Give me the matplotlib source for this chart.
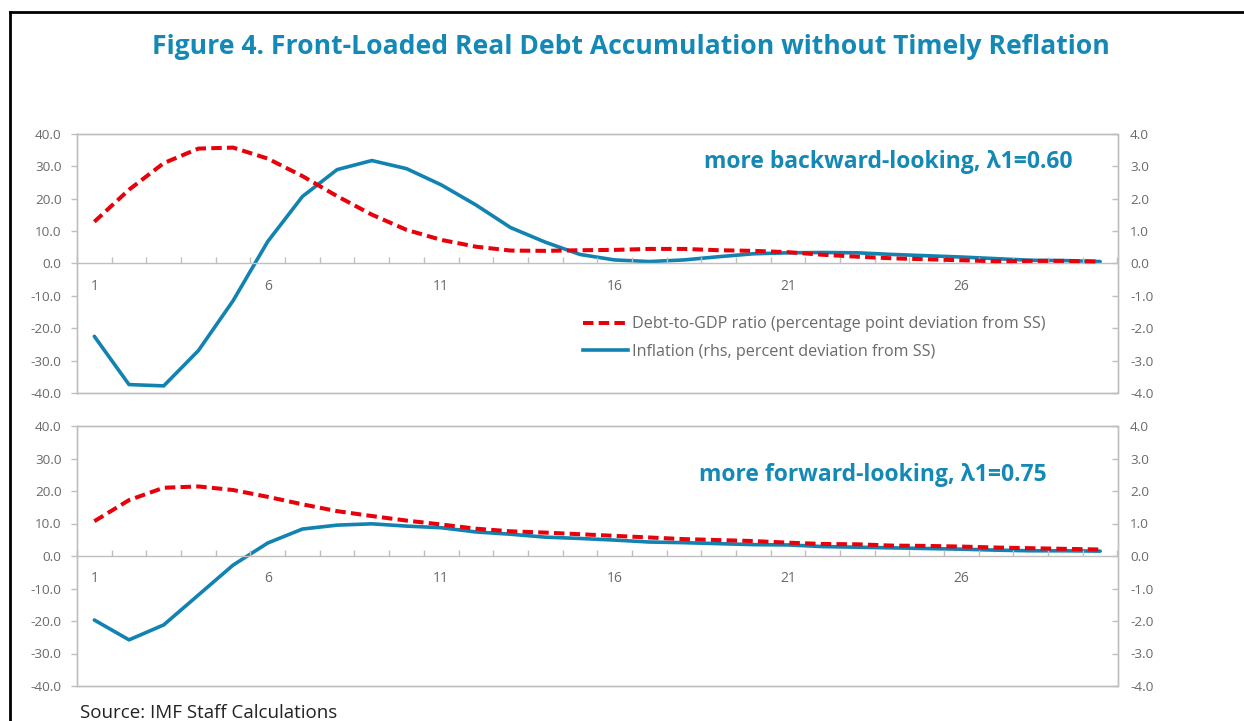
import matplotlib
matplotlib.use("Agg")
import matplotlib.pyplot as plt
from matplotlib.ticker import FixedLocator, FuncFormatter
from matplotlib.lines import Line2D

periods = list(range(1, 31))

debt_backward = [12.9, 22.8, 31.0, 35.5, 35.8, 32.4, 27.0, 20.8, 15.1, 10.4,
                 7.3, 5.2, 4.0, 3.9, 4.1, 4.2, 4.5, 4.5, 4.1, 3.9,
                 3.5, 2.7, 2.1, 1.6, 1.3, 1.0, 0.7, 0.8, 0.8, 0.6]
infl_backward = [-2.25, -3.74, -3.78, -2.69, -1.15, 0.68, 2.07, 2.90, 3.18, 2.93,
                 2.43, 1.81, 1.11, 0.66, 0.28, 0.11, 0.06, 0.11, 0.21, 0.30,
                 0.33, 0.34, 0.33, 0.28, 0.24, 0.20, 0.15, 0.10, 0.09, 0.06]
debt_forward = [10.7, 17.2, 21.0, 21.4, 20.3, 18.2, 15.9, 13.8, 12.3, 10.9,
                9.7, 8.4, 7.6, 7.2, 6.7, 6.2, 5.7, 5.2, 4.9, 4.6,
                4.1, 3.7, 3.6, 3.2, 3.1, 2.9, 2.6, 2.4, 2.2, 2.0]
infl_forward = [-1.97, -2.58, -2.12, -1.20, -0.28, 0.40, 0.83, 0.95, 0.99, 0.92,
                0.87, 0.74, 0.67, 0.58, 0.54, 0.49, 0.43, 0.41, 0.38, 0.35,
                0.34, 0.29, 0.27, 0.25, 0.23, 0.21, 0.18, 0.16, 0.16, 0.15]

cat_labels = [1, 6, 11, 16, 21, 26]
left_ticks = [-40, -30, -20, -10, 0, 10, 20, 30, 40]
right_ticks = [-4, -3, -2, -1, 0, 1, 2, 3, 4]

title = "Figure 4. Front-Loaded Real Debt Accumulation without Timely Reflation"
panel_titles = ["more backward-looking, \u03bb1=0.60", "more forward-looking, \u03bb1=0.75"]
legend_labels = ["Debt-to-GDP ratio (percentage point deviation from SS)",
                 "Inflation (rhs, percent deviation from SS)"]
source = "Source: IMF Staff Calculations"

RED = "#E8000B"
BLUE = "#1283B0"
TEAL = "#1589B6"
GRID = "#BFBFBF"
TXT = "#6A6A6A"
FONT = ["Open Sans", "DejaVu Sans"]

plt.rcParams['font.family'] = FONT

fig = plt.figure(figsize=(12.44, 7.21), dpi=100)

W, H = 1244.0, 721.0
def axrect(l, t, r, b):
    return [l / W, 1 - b / H, (r - l) / W, (b - t) / H]

panels = [
    (axrect(77, 134, 1117.5, 393), debt_backward, infl_backward, panel_titles[0], (1073, 162)),
    (axrect(77, 426, 1117.5, 686), debt_forward, infl_forward, panel_titles[1], (1047, 475)),
]

fmt = FuncFormatter(lambda v, p: f"{v:.1f}")
dash = (0, (2.6, 1.3))

for i, (rect, debt, infl, ptitle, tpos) in enumerate(panels):
    ax = fig.add_axes(rect)
    ax2 = ax.twinx()
    ax.set_xlim(0.5, 30.5)
    ax.set_ylim(-40, 40)
    ax2.set_ylim(-4, 4)
    for a in (ax, ax2):
        for s in a.spines.values():
            s.set_color(GRID)
            s.set_linewidth(1.0)
    ax.set_xticks([])
    ax.yaxis.set_major_locator(FixedLocator(left_ticks))
    ax.yaxis.set_major_formatter(fmt)
    ax.tick_params(axis='y', direction='out', length=4, width=1, color=GRID,
                   labelsize=9.7, labelcolor=TXT, pad=7)
    ax2.yaxis.set_major_locator(FixedLocator(right_ticks))
    ax2.yaxis.set_major_formatter(fmt)
    ax2.tick_params(axis='y', direction='in', length=4, width=1, color=GRID,
                    labelsize=9.7, labelcolor=TXT, pad=9)
    ax2.set_xticks([])

    # category axis at zero
    sec = ax.secondary_xaxis(0.5)
    sec.set_alignment('bottom')
    for s in sec.spines.values():
        s.set_color(GRID)
        s.set_linewidth(1.0)
    sec.set_xticks(cat_labels)
    sec.set_xticklabels([str(c) for c in cat_labels])
    sec.xaxis.set_minor_locator(FixedLocator([p + 0.5 for p in [0] + periods]))
    sec.tick_params(axis='x', which='major', length=0, labelsize=10, labelcolor=TXT, pad=11)
    sec.tick_params(axis='x', which='minor', direction='in', length=4, width=1, color=GRID)

    l1, = ax.plot(periods, debt, color=RED, lw=2.9, linestyle=dash, zorder=3)
    l2, = ax2.plot(periods, infl, color=BLUE, lw=2.6, zorder=3, solid_capstyle='round')
    ax.set_zorder(ax2.get_zorder() + 1)
    ax.patch.set_visible(False)

    fig.text(tpos[0] / W, 1 - tpos[1] / H, ptitle, ha='right', va='center',
             fontsize=16.5, fontweight='bold', color=TEAL)

    if i == 0:
        h1 = Line2D([], [], color=RED, lw=2.9, linestyle=dash)
        h2 = Line2D([], [], color=BLUE, lw=2.6)
        leg = ax.legend([h1, h2], legend_labels, loc='center left',
                        bbox_to_anchor=((583 - 77) / 1040.5, 1 - (338 - 134) / 259),
                        frameon=False, fontsize=11.6, labelcolor=TXT,
                        handlelength=2.8, handletextpad=0.25, labelspacing=0.72,
                        borderpad=0, borderaxespad=0)

fig.text(631 / W, 1 - 47.5 / H, title, ha='center', va='center',
         fontsize=19.1, fontweight='bold', color=TEAL)

fig.text(80 / W, 1 - 717.5 / H, source, ha='left', va='baseline',
         fontsize=13.5, color='#222222')

# figure frame (top and left edges)
fig.add_artist(Line2D([9.5 / W, 1.0], [1 - 12 / H, 1 - 12 / H], color='black', lw=2.0,
                      transform=fig.transFigure))
fig.add_artist(Line2D([9.5 / W, 9.5 / W], [0.0, 1 - 12 / H], color='black', lw=2.0,
                      transform=fig.transFigure))

fig.savefig("out.png", dpi=100)
